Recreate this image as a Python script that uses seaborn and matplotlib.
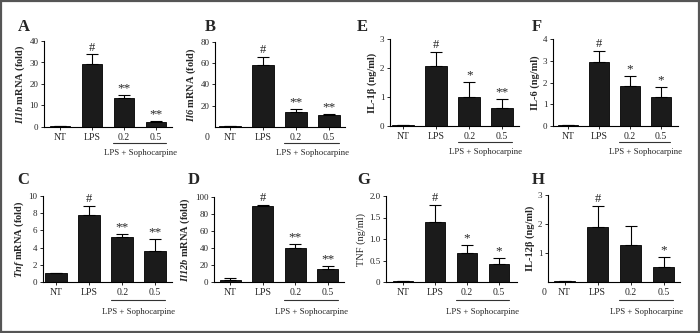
import numpy as np
import pandas as pd
import matplotlib
matplotlib.use("Agg")
import matplotlib.pyplot as plt
import seaborn as sns
from matplotlib.patches import Rectangle
from matplotlib.transforms import blended_transform_factory

sns.set_style("ticks")
plt.rcParams['font.family'] = ['Liberation Serif', 'DejaVu Serif']
plt.rcParams['mathtext.fontset'] = 'custom'
plt.rcParams['mathtext.rm'] = 'Liberation Serif'
plt.rcParams['mathtext.it'] = 'Liberation Serif:italic'
plt.rcParams['mathtext.bf'] = 'Liberation Serif:bold'
plt.rcParams['mathtext.bfit'] = 'Liberation Serif:italic:bold'

groups = ["NT", "LPS", "0.2", "0.5"]
group_label = "LPS + Sophocarpine"

# ---- data (means, upper error) ----
il1b_mrna = [0.3, 29.3, 13.7, 2.2]
il1b_mrna_err = [0.1, 4.5, 1.2, 0.4]
il1b_mrna_sig = ["", "#", "**", "**"]

il6_mrna = [1.0, 58.5, 14.5, 11.0]
il6_mrna_err = [0.2, 7.5, 2.0, 1.0]
il6_mrna_sig = ["", "#", "**", "**"]

tnf_mrna = [1.0, 7.8, 5.25, 3.55]
tnf_mrna_err = [0.05, 1.05, 0.3, 1.45]
tnf_mrna_sig = ["", "#", "**", "**"]

il12b_mrna = [2.5, 89.0, 40.5, 15.5]
il12b_mrna_err = [2.0, 1.5, 4.0, 3.5]
il12b_mrna_sig = ["", "#", "**", "**"]

il1b_prot = [0.03, 2.08, 1.0, 0.63]
il1b_prot_err = [0.0, 0.48, 0.53, 0.30]
il1b_prot_sig = ["", "#", "*", "**"]

il6_prot = [0.03, 2.95, 1.83, 1.32]
il6_prot_err = [0.0, 0.52, 0.48, 0.46]
il6_prot_sig = ["", "#", "*", "*"]

tnf_prot = [0.03, 1.40, 0.68, 0.43]
tnf_prot_err = [0.0, 0.40, 0.18, 0.13]
tnf_prot_sig = ["", "#", "*", "*"]

il12_prot = [0.02, 1.90, 1.27, 0.53]
il12_prot_err = [0.0, 0.72, 0.67, 0.33]
il12_prot_sig = ["", "#", "", "*"]

W, H = 700, 333
fig = plt.figure(figsize=(W / 100, H / 100), dpi=100)
fig.add_artist(Rectangle((0.001, 0.002), 0.997, 0.995, transform=fig.transFigure,
                         fill=False, edgecolor="#555555", linewidth=1.6))

panels = [
    ("A", il1b_mrna, il1b_mrna_err, il1b_mrna_sig, r"$\mathbfit{Il1b}$ mRNA (fold)", True,
     [0, 10, 20, 30, 40], ["0", "10", "20", "30", "40"], None, (44, 41, 127), (-0.5, 3.5), 32, 0),
    ("B", il6_mrna, il6_mrna_err, il6_mrna_sig, r"$\mathbfit{Il6}$ mRNA (fold)", True,
     [20, 40, 60, 80], ["20", "40", "60", "80"], -8, (215, 42, 127), (-0.45, 3.5), 33, 0),
    ("E", il1b_prot, il1b_prot_err, il1b_prot_sig, "IL-1β (ng/ml)", True,
     [0, 1, 2, 3], ["0", "1", "2", "3"], None, (390, 39, 126), (-0.4, 3.5), 33, 0),
    ("F", il6_prot, il6_prot_err, il6_prot_sig, "IL-6 (ng/ml)", True,
     [0, 1, 2, 3, 4], ["0", "1", "2", "3", "4"], None, (553, 39, 126), (-0.48, 3.55), 31, 0),
    ("C", tnf_mrna, tnf_mrna_err, tnf_mrna_sig, r"$\mathbfit{Tnf}$ mRNA (fold)", True,
     [0, 2, 4, 6, 8, 10], ["0", "2", "4", "6", "8", "10"], None, (43, 196, 282), (-0.4, 3.5), 33, 1),
    ("D", il12b_mrna, il12b_mrna_err, il12b_mrna_sig, r"$\mathbfit{Il12b}$ mRNA (fold)", True,
     [0, 20, 40, 60, 80, 100], ["0", "20", "40", "60", "80", "100"], None, (214, 197, 282), (-0.5, 3.5), 32.5, 1),
    ("G", tnf_prot, tnf_prot_err, tnf_prot_sig, "TNF (ng/ml)", False,
     [0, 0.5, 1.0, 1.5, 2.0], ["0", "0.5", "1.0", "1.5", "2.0"], None, (386, 196, 282), (-0.53, 3.55), 32, 1),
    ("H", il12_prot, il12_prot_err, il12_prot_sig, "IL-12β (ng/ml)", True,
     [1, 2, 3], ["1", "2", "3"], -4, (548, 195, 282), (-0.5, 3.5), 33, 1),
]

letter_pos = {"A": (18, 27), "B": (205, 27), "E": (357, 27), "F": (532, 27),
              "C": (17, 180), "D": (188, 180), "G": (357, 180), "H": (532, 180)}
row_line = {0: 16, 1: 18}
row_text = {0: 26, 1: 30}

for (letter, vals, errs, sigs, ylab, bold, yt, ytl, zero_off, rect, xlim, sp, row) in panels:
    left, top, bottom = rect
    width_px = (xlim[1] - xlim[0]) * sp
    ax_h = bottom - top
    ax = fig.add_axes([left / W, 1 - bottom / H, width_px / W, ax_h / H])
    df = pd.DataFrame({"group": groups, "value": vals})
    sns.barplot(data=df, x="group", y="value", order=groups, color="#1b1b1b",
                edgecolor="black", linewidth=0.6, width=0.65, saturation=1, ax=ax)
    ax.errorbar(range(len(vals)), vals, yerr=[np.zeros(len(errs)), errs], fmt="none",
                ecolor="black", elinewidth=0.8, capsize=4.5, capthick=0.8)
    for i, (v, e, s) in enumerate(zip(vals, errs, sigs)):
        if s:
            ax.annotate(s, (i, v + e), xytext=(0, 0.5), textcoords="offset points",
                        ha="center", va="bottom", fontsize=9 if s == "#" else 9.5,
                        fontweight="normal")
    ax.set_xlim(*xlim)
    ax.set_ylim(0, yt[-1])
    ax.set_yticks(yt)
    ax.set_yticklabels(ytl)
    ax.set_xlabel("")
    ax.set_ylabel(ylab, fontsize=7.5, fontweight="bold" if bold else "normal", labelpad=2)
    ax.tick_params(axis="y", labelsize=6.5, length=2.5, width=0.7, pad=1.5)
    ax.tick_params(axis="x", labelsize=7, length=2.5, width=0.7, pad=2)
    for s in ["top", "right"]:
        ax.spines[s].set_visible(False)
    for s in ["left", "bottom"]:
        ax.spines[s].set_linewidth(0.8)
        ax.spines[s].set_color("black")
    if zero_off is not None:
        ax.annotate("0", xy=(0, 0), xycoords="axes fraction", xytext=(zero_off * 0.72, -4.2),
                    textcoords="offset points", ha="center", va="top", fontsize=7)
    tr = blended_transform_factory(ax.transData, ax.transAxes)
    ly = -row_line[row] / ax_h
    ax.plot([1.65, 3.3], [ly, ly], transform=tr, color="#333333", lw=0.8, clip_on=False)
    ax.text(2.5, -row_text[row] / ax_h, group_label, transform=tr, ha="center", va="center",
            fontsize=6.3)
    lx, lyy = letter_pos[letter]
    fig.text(lx / W, 1 - lyy / H, letter, ha="left", va="center", fontsize=12, fontweight="bold")

fig.savefig("out.png", dpi=100)
